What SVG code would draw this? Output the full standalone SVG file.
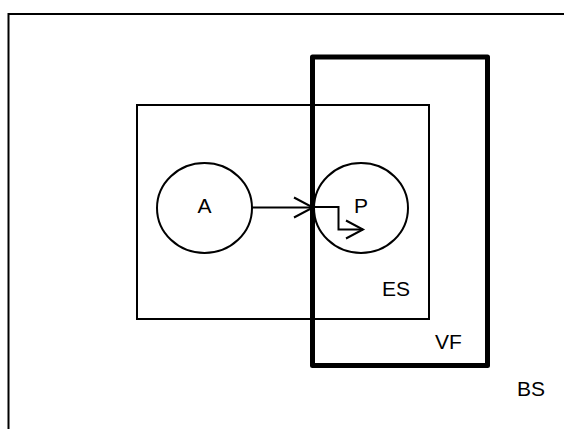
<svg xmlns="http://www.w3.org/2000/svg" width="564" height="429" viewBox="0 0 564 429">
<style>
.box{fill:none;stroke:#000;stroke-width:2}
.thick{fill:none;stroke:#000;stroke-width:5;stroke-linejoin:round}
.node{fill:#fff;stroke:#000;stroke-width:2}
.lbl{font-family:"Liberation Sans",Arial,sans-serif;font-size:21px;fill:#000}
.conn{fill:none;stroke:#000;stroke-width:2}
</style>
<rect width="564" height="429" fill="#fff"/>
<g id="BS">
<rect class="box" x="8.5" y="14" width="570" height="430"/>
<text class="lbl" x="517" y="396">BS</text>
</g>
<g id="ES">
<rect class="box" x="137" y="105" width="292" height="214"/>
<text class="lbl" x="382" y="296">ES</text>
</g>
<g id="A">
<ellipse class="node" cx="204.5" cy="208" rx="47.5" ry="45"/>
<text class="lbl" x="204.5" y="213" text-anchor="middle">A</text>
</g>
<g id="P">
<ellipse class="node" cx="361" cy="208" rx="47" ry="45"/>
<text class="lbl" x="361" y="213" text-anchor="middle">P</text>
</g>
<g id="VF">
<rect class="thick" x="312.5" y="57" width="175" height="308.5"/>
<text class="lbl" x="435" y="349">VF</text>
</g>
<g id="connectors">
<path class="conn" d="M252 207.5H312"/>
<path class="conn" d="M294 197.5L313 207.5L294 217.5"/>
<path class="conn" d="M312 207H338.5V229.5H363"/>
<path class="conn" d="M346 220.5L363 229.5L346 238.5"/>
</g>
</svg>
